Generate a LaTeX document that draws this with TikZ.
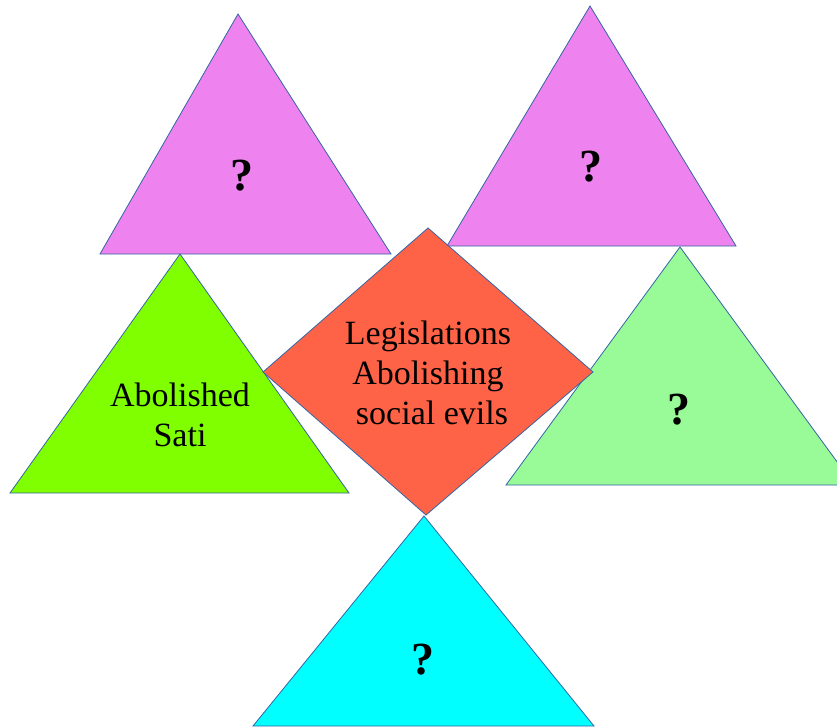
\documentclass[tikz,border=0pt]{standalone}
\usepackage{fontspec}
\setmainfont{Liberation Serif}
\usetikzlibrary{positioning}
\definecolor{rand}{HTML}{3465A4}
\definecolor{violett}{HTML}{EE82EE}
\definecolor{hellgruen}{HTML}{7FFF00}
\definecolor{blassgruen}{HTML}{98FB98}
\definecolor{tuerkis}{HTML}{00FFFF}
\definecolor{tomate}{HTML}{FF6347}

\begin{document}
\begin{tikzpicture}[x=1pt,y=-1pt,
  dreieck/.style={draw=rand,line width=0.8pt,line join=miter},
  frage/.style={font=\fontsize{46}{50}\selectfont\bfseries,inner sep=0pt,anchor=base},
  schrift/.style={font=\fontsize{34}{40}\selectfont,align=center,inner sep=0pt}]
\useasboundingbox (0,0) rectangle (837,727);
\clip (0,0) rectangle (837,727);
%Spitze x/y, Basis links, Basis rechts, Basis y, Farbe
\foreach \sx/\sy/\bl/\br/\by/\farbe in {238/14/100/391/254/violett,590/6/447/736/246/violett,180/254/10/349/493/hellgruen,680/247/506/854/485/blassgruen,424/516/253/594/726/tuerkis}{
\draw[dreieck,fill=\farbe] (\sx,\sy) -- (\br,\by) -- (\bl,\by) -- cycle;
}
%Raute in der Mitte
\draw[dreieck,fill=tomate] (428,228) -- (593,372) -- (426,515) -- (263,372) -- cycle;
\node[schrift] (mitte) at (428,373) {Legislations\\Abolishing\\\hspace*{8pt}social evils};
\node[schrift] (sati) at (180,415) {Abolished\\Sati};
\node[frage] (frageOL) at (242,191) {?};
\node[frage] (frageOR) at (591,182) {?};
\node[frage] (frageR) at (679,424) {?};
\node[frage] (frageU) at (423,674) {?};
\end{tikzpicture}
\end{document}
